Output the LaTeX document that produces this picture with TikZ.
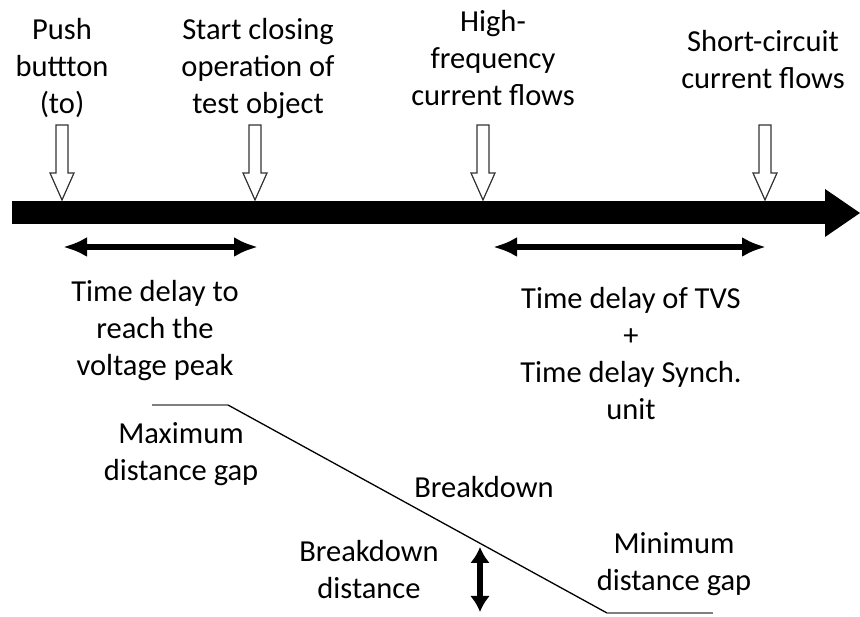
\documentclass[tikz,border=0pt]{standalone}
\usepackage{fontspec}
\setmainfont{Carlito}
\usetikzlibrary{arrows.meta}

\begin{document}
\begin{tikzpicture}[x=1pt,y=1pt,
  lbl/.style={align=center,inner sep=0pt,outer sep=0pt,font=\fontsize{30.5}{37}\selectfont},
  span/.style={line width=6.5pt,{Latex[length=24pt,width=20pt]}-{Latex[length=24pt,width=20pt]}},
  gap/.style={draw=gray,line width=2pt},
  slope/.style={draw=black,line width=1.3pt}]
\definecolor{fillColor}{RGB}{255,255,255}
\path[use as bounding box,fill=fillColor] (0,0) rectangle (860,617);

% time axis
\path[fill=black] (12,392.5) rectangle (827,415.5);
\path[fill=black] (825,428) -- (860,404) -- (825,380) -- cycle;

% hollow event arrows
\foreach \x in {62,255,483,765}{
  \path[draw=black!80,line width=1.2pt,fill=white,line join=miter]
    (\x-6,492) -- (\x+6,492) -- (\x+6,444) -- (\x+12,444) --
    (\x,417) -- (\x-12,444) -- (\x-6,444) -- cycle;
}

% events
\node[lbl] (push) at (62,549) {Push\\buttton\\(to)};
\node[lbl] (close) at (258,548) {Start closing\\operation of\\test object};
\node[lbl] (hf) at (493,559) {High-\\frequency\\current flows};
\node[lbl] (sc) at (763,557) {Short-circuit\\current flows};

% delays
\coordinate (d1a) at (63,370);
\coordinate (d1b) at (258,370);
\coordinate (d2a) at (493,370);
\coordinate (d2b) at (766,370);
\draw[span] (d1a) -- (d1b);
\draw[span] (d2a) -- (d2b);
\node[lbl] (peak) at (155,286) {Time delay to\\reach the\\voltage peak};
\node[lbl] (tvs) at (631,263) {Time delay of TVS\\+\\Time delay Synch.\\unit};

% gap closing
\coordinate (g0) at (152,212);
\coordinate (g1) at (228,212);
\coordinate (g2) at (607,4);
\coordinate (g3) at (713,4);
\draw[gap] (g0) -- (g1);
\draw[slope] (g1) -- (g2);
\draw[gap] (g2) -- (g3);
\node[lbl] (maxgap) at (181,163) {Maximum\\distance gap};
\node[lbl] (bd) at (484,130) {Breakdown};
\node[lbl] (bddist) at (369,47) {Breakdown\\distance};
\node[lbl] (mingap) at (674,53) {Minimum\\distance gap};

\coordinate (b0) at (480,70);
\coordinate (b1) at (480,5);
\draw[line width=6pt,{Latex[length=16pt,width=20pt]}-{Latex[length=16pt,width=20pt]}] (b0) -- (b1);
\end{tikzpicture}
\end{document}
